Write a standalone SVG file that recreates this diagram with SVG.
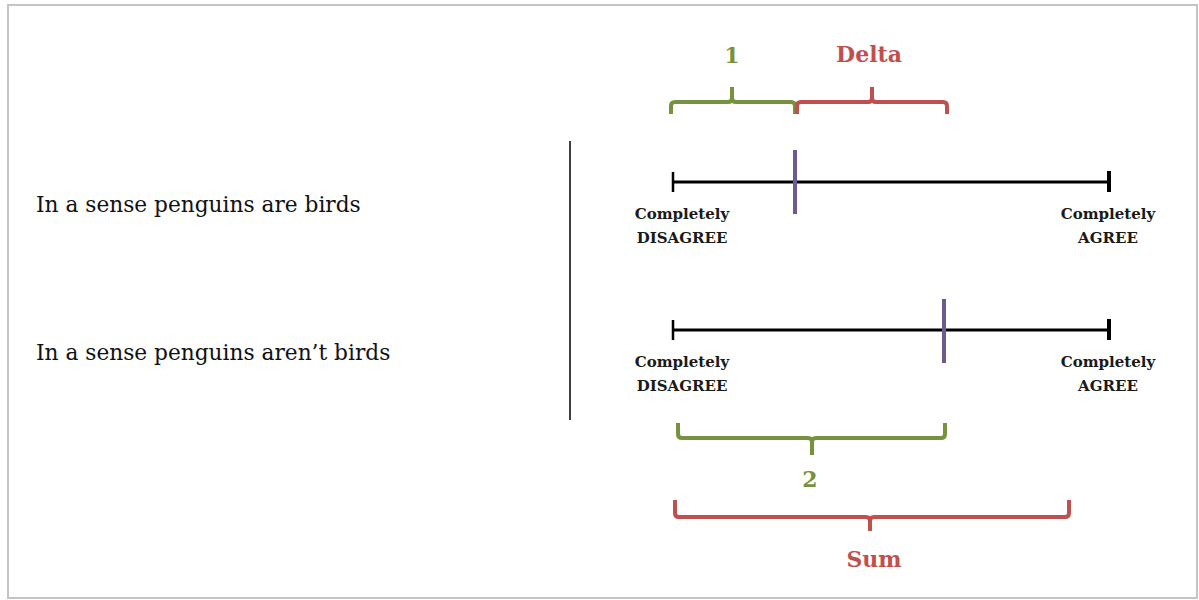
<svg xmlns="http://www.w3.org/2000/svg" width="1199" height="600" viewBox="0 0 1199 600">
<style>
.q{font-family:"DejaVu Serif","Liberation Serif",serif;font-size:21.7px;fill:#111}
.lb{font-family:"DejaVu Serif","Liberation Serif",serif;font-size:15px;font-weight:bold;fill:#1a1a1a;text-anchor:middle}
.bt{font-family:"DejaVu Serif","Liberation Serif",serif;font-size:22px;font-weight:bold;text-anchor:middle}
.axis{stroke:#000;stroke-width:3;fill:none}
.mark{stroke:#6f5a8f;stroke-width:4}
.br{fill:none;stroke-width:4;stroke-linejoin:round;stroke-linecap:butt}
.g{stroke:#76923c}.r{stroke:#c0504d}
.gt{fill:#76923c}.rt{fill:#c0504d}
</style>
<rect x="8" y="5" width="1189" height="593" fill="#fff" stroke="#c4c4c4" stroke-width="2"/>
<g id="statements">
<text class="q" x="36" y="212">In a sense penguins are birds</text>
<text class="q" x="36" y="360">In a sense penguins aren’t birds</text>
</g>
<g id="divider"><line x1="570" y1="141" x2="570" y2="420" stroke="#000" stroke-width="1.5"/></g>
<g id="scale1">
<line class="axis" x1="673" y1="182" x2="1109" y2="182"/>
<line x1="673" y1="172" x2="673" y2="192" stroke="#000" stroke-width="2.5"/>
<line x1="1109" y1="171" x2="1109" y2="192" stroke="#000" stroke-width="4"/>
<line class="mark" x1="795" y1="150" x2="795" y2="214"/>
<text class="lb" x="682" y="219">Completely</text>
<text class="lb" x="682" y="243">DISAGREE</text>
<text class="lb" x="1108" y="219">Completely</text>
<text class="lb" x="1108" y="243">AGREE</text>
</g>
<g id="scale2">
<line class="axis" x1="673" y1="330" x2="1109" y2="330"/>
<line x1="673" y1="320" x2="673" y2="340" stroke="#000" stroke-width="2.5"/>
<line x1="1109" y1="319" x2="1109" y2="340" stroke="#000" stroke-width="4"/>
<line class="mark" x1="944" y1="299" x2="944" y2="363"/>
<text class="lb" x="682" y="367">Completely</text>
<text class="lb" x="682" y="391">DISAGREE</text>
<text class="lb" x="1108" y="367">Completely</text>
<text class="lb" x="1108" y="391">AGREE</text>
</g>
<g id="brace-1">
<path class="br g" d="M671 114 V106 Q671 102 675 102 H728 Q732 102 732 98 V87 M732 98 Q732 102 736 102 H791 Q795 102 795 106 V114"/>
<text class="bt gt" x="732" y="63">1</text>
</g>
<g id="brace-delta">
<path class="br r" d="M797 114 V106 Q797 102 801 102 H868 Q872 102 872 98 V87 M872 98 Q872 102 876 102 H943 Q947 102 947 106 V114"/>
<text class="bt rt" x="869" y="62">Delta</text>
</g>
<g id="brace-2">
<path class="br g" d="M678 423 V434 Q678 438 682 438 H808 Q812 438 812 442 V455 M812 442 Q812 438 816 438 H941 Q945 438 945 434 V423"/>
<text class="bt gt" x="810" y="487">2</text>
</g>
<g id="brace-sum">
<path class="br r" d="M675 500 V513 Q675 517 679 517 H866 Q870 517 870 521 V531 M870 521 Q870 517 874 517 H1065 Q1069 517 1069 513 V500"/>
<text class="bt rt" x="874" y="567">Sum</text>
</g>
</svg>
